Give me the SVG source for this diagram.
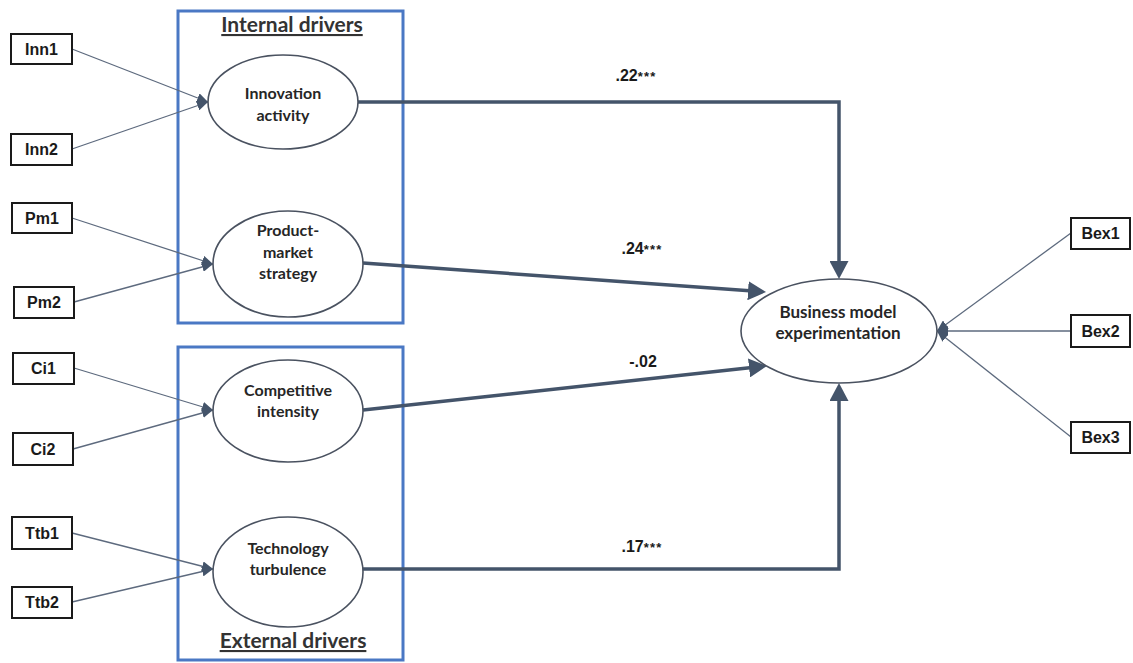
<svg xmlns="http://www.w3.org/2000/svg" width="1133" height="663" viewBox="0 0 1133 663">
<style>
  .ind rect { fill: #ffffff; stroke: #1a1a1a; stroke-width: 2; }
  .ind text { font-family: "Liberation Sans", Arial, sans-serif; font-weight: bold; font-size: 16px; fill: #1a1a1a; text-anchor: middle; }
  .lat ellipse { fill: #ffffff; stroke: #4a5260; stroke-width: 1.6; }
  .lat text { font-family: Lato, "Open Sans", sans-serif; font-weight: bold; font-size: 16px; fill: #262626; text-anchor: middle; }
  .lat text.big { font-size: 17px; }
  .grp rect { fill: none; stroke: #4a78c4; stroke-width: 3; }
  .grp text { font-family: Lato, "Open Sans", sans-serif; font-weight: bold; font-size: 21px; fill: #333333; text-anchor: middle; text-decoration: underline; }
  .thin { fill: none; stroke: #5d6a7e; stroke-width: 1.3; marker-end: url(#ah); }
  .thick { fill: none; stroke: #44546a; stroke-width: 3.5; marker-end: url(#ahb); }
  .coef { font-family: "Liberation Sans", Arial, sans-serif; font-weight: bold; font-size: 16px; fill: #1a1a1a; text-anchor: middle; }
  .star { font-size: 13px; letter-spacing: 1.2px; }
</style>
<defs>
  <marker id="ah" markerUnits="userSpaceOnUse" markerWidth="11" markerHeight="10" refX="11" refY="5" orient="auto">
    <path d="M0,0 L11,5 L0,10 z" fill="#44546a"/>
  </marker>
  <marker id="ahb" markerUnits="userSpaceOnUse" markerWidth="18" markerHeight="19" refX="12" refY="9.5" orient="auto">
    <path d="M0,0 L18,9.5 L0,19 z" fill="#44546a"/>
  </marker>
</defs>
<rect width="1133" height="663" fill="#ffffff"/>

<g id="group-internal" class="grp">
  <rect x="178" y="11" width="225" height="312"/>
  <text x="292" y="32">Internal drivers</text>
</g>
<g id="group-external" class="grp">
  <rect x="178" y="347" width="225" height="313"/>
  <text x="293" y="648">External drivers</text>
</g>

<g id="connectors">
  <line class="thin" x1="72" y1="49" x2="208" y2="102"/>
  <line class="thin" x1="72" y1="149" x2="208" y2="102"/>
  <line class="thin" x1="72" y1="218" x2="213" y2="264"/>
  <line class="thin" x1="74" y1="302" x2="213" y2="264"/>
  <line class="thin" x1="74" y1="368" x2="213" y2="410"/>
  <line class="thin" x1="73" y1="449" x2="213" y2="410"/>
  <line class="thin" x1="72" y1="533" x2="213" y2="569"/>
  <line class="thin" x1="72" y1="602" x2="213" y2="569"/>
  <line class="thin" x1="1071" y1="233" x2="937" y2="331"/>
  <line class="thin" x1="1071" y1="331" x2="937" y2="331"/>
  <line class="thin" x1="1071" y1="437" x2="937" y2="331"/>
  <path class="thick" d="M358,102 H839 V273"/>
  <path class="thick" d="M363,263 L760,291.6"/>
  <path class="thick" d="M363,410 L761,366.6"/>
  <path class="thick" d="M363,569 H839 V389"/>
  <text class="coef" x="636" y="81">.22<tspan class="star">***</tspan></text>
  <text class="coef" x="642" y="254">.24<tspan class="star">***</tspan></text>
  <text class="coef" x="643" y="367">-.02</text>
  <text class="coef" x="642" y="552">.17<tspan class="star">***</tspan></text>
</g>

<g id="node-innovation" class="lat">
  <ellipse cx="283" cy="102" rx="75" ry="47"/>
  <text x="283" y="99">Innovation</text>
  <text x="283" y="121">activity</text>
</g>
<g id="node-product" class="lat">
  <ellipse cx="288" cy="264" rx="75" ry="53"/>
  <text x="288" y="236">Product-</text>
  <text x="288" y="258">market</text>
  <text x="288" y="279">strategy</text>
</g>
<g id="node-competitive" class="lat">
  <ellipse cx="288" cy="411" rx="75" ry="51"/>
  <text x="288" y="396">Competitive</text>
  <text x="288" y="417">intensity</text>
</g>
<g id="node-technology" class="lat">
  <ellipse cx="288" cy="572" rx="75" ry="55"/>
  <text x="288" y="554">Technology</text>
  <text x="288" y="575">turbulence</text>
</g>
<g id="node-bme" class="lat">
  <ellipse cx="839" cy="331" rx="98" ry="52"/>
  <text class="big" x="838" y="318">Business model</text>
  <text class="big" x="838" y="339">experimentation</text>
</g>

<g id="node-inn1" class="ind"><rect x="11" y="34" width="61" height="30"/><text x="41.5" y="55">Inn1</text></g>
<g id="node-inn2" class="ind"><rect x="11" y="134" width="61" height="31"/><text x="41.5" y="155">Inn2</text></g>
<g id="node-pm1" class="ind"><rect x="12" y="203" width="60" height="30"/><text x="42" y="224">Pm1</text></g>
<g id="node-pm2" class="ind"><rect x="14" y="287" width="60" height="31"/><text x="44" y="308">Pm2</text></g>
<g id="node-ci1" class="ind"><rect x="13" y="353" width="61" height="31"/><text x="43.5" y="374">Ci1</text></g>
<g id="node-ci2" class="ind"><rect x="13" y="433" width="60" height="32"/><text x="43" y="455">Ci2</text></g>
<g id="node-ttb1" class="ind"><rect x="12" y="517" width="60" height="32"/><text x="42" y="539">Ttb1</text></g>
<g id="node-ttb2" class="ind"><rect x="12" y="587" width="60" height="31"/><text x="42" y="608">Ttb2</text></g>
<g id="node-bex1" class="ind"><rect x="1071" y="218" width="59" height="31"/><text x="1100.5" y="239">Bex1</text></g>
<g id="node-bex2" class="ind"><rect x="1071" y="315" width="59" height="32"/><text x="1100.5" y="337">Bex2</text></g>
<g id="node-bex3" class="ind"><rect x="1071" y="422" width="59" height="31"/><text x="1100.5" y="443">Bex3</text></g>
</svg>
